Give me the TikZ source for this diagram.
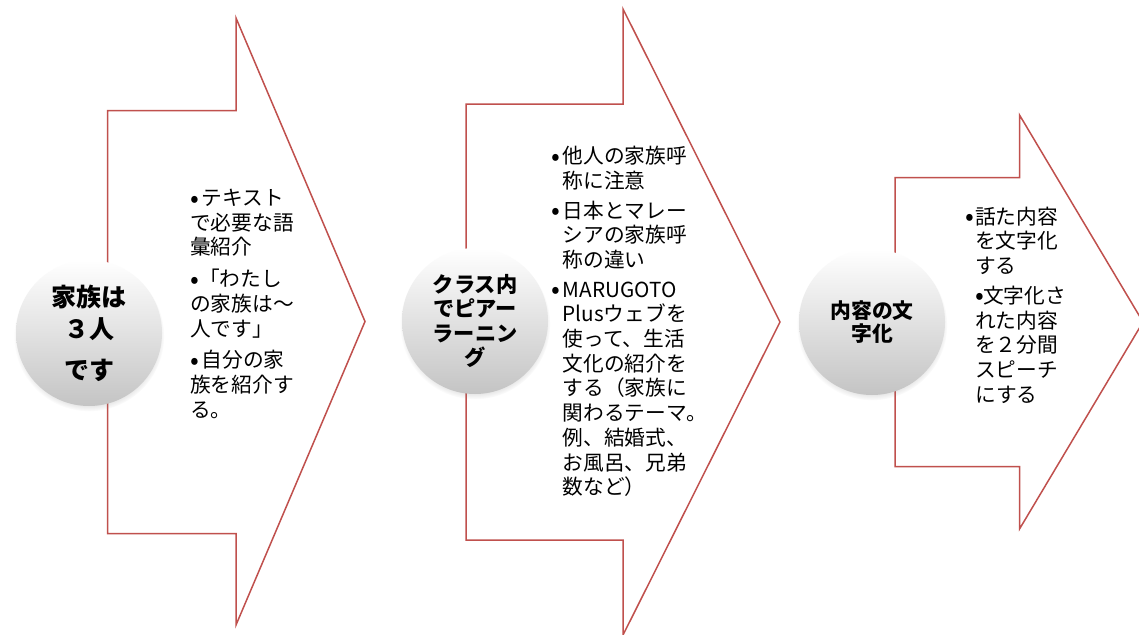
\documentclass[tikz,border=0pt]{standalone}
\usepackage{fontspec}
\newfontfamily\jp{Noto Sans CJK JP}
\usetikzlibrary{shadows}
\definecolor{arrowred}{RGB}{192,80,77}
\definecolor{ballgray}{RGB}{196,196,196}
\newcommand\bul{\raisebox{-1.6pt}{\scalebox{1.25}{•}}}
\newcommand\bitem{\makebox[11pt][l]{\bul}}
\newcommand\hang{\hspace*{11pt}}
\newcommand\bitemc{\makebox[10pt][l]{\bul}}
\newcommand\hangc{\hspace*{10pt}}
\newcommand\bitema{\makebox[11.5pt][l]{\bul}}
\begin{document}
\begin{tikzpicture}[x=1pt,y=-1pt,
  chevron/.style={draw=arrowred, line width=1.5pt, line join=miter, fill=white},
  ball/.style={circle, minimum size=146pt, inner sep=0pt, align=center,
    top color=white, bottom color=ballgray,
    circular drop shadow={shadow xshift=0pt, shadow yshift=-3pt, opacity=0.35, shadow scale=1.03}},
  bodytext/.style={anchor=north west, inner sep=0pt, align=left,
    font={\jp\fontsize{20.7}{24.7}\selectfont}}
]
\fill[white] (0,0) rectangle (1139,634);
\clip (0,0) rectangle (1139,634);
% arrows
\draw[chevron] (107.5,110.5) -- (236,110.5) -- (236,18) -- (365,321.5) -- (236,625) -- (236,533.5) -- (107.5,533.5) -- cycle;
\draw[chevron] (466,104) -- (623,104) -- (623,9) -- (780,322) -- (623,635) -- (623,540) -- (466,540) -- cycle;
\draw[chevron] (895,177.7) -- (1019.5,177.7) -- (1019.5,115) -- (1143,322) -- (1019.5,529) -- (1019.5,466.7) -- (895,466.7) -- cycle;
% circles
\node[ball, font={\jp\bfseries\fontsize{25}{32.6}\selectfont}] (c1) at (89,333) {家族は\\３人\\[7.8pt]です};
\node[ball, font={\jp\bfseries\fontsize{21.2}{24.5}\selectfont}] (c2) at (475,321) {クラス内\\でピアー\\ラーニン\\グ};
\node[ball, font={\jp\bfseries\fontsize{20.8}{23}\selectfont}] (c3) at (872,322) {内容の文\\字化};
% texts
\node[bodytext] (t1) at (190,189) {\bitema テキスト\\で必要な語\\彙紹介\\[7pt]\bul「わたし\\の家族は～\\人です」\\[7pt]\bitema 自分の家\\族を紹介す\\る。};
\node[bodytext] (t2) at (551.5,146) {\bitem 他人の家族呼\\\hang 称に注意\\[5pt]\bitem 日本とマレー\\\hang シアの家族呼\\\hang 称の違い\\[5pt]\bitem MARUGOTO\\\hang Plusウェブを\\\hang 使って、生活\\\hang 文化の紹介を\\\hang する（家族に\\\hang 関わるテーマ。\\\hang 例、結婚式、\\\hang お風呂、兄弟\\\hang 数など）};
\node[bodytext] (t3) at (965,206.7) {\bitemc 話た内容\\\hangc を文字化\\\hangc する\\[5pt]\hangc \makebox[8pt][l]{\bul}文字化さ\\\hangc れた内容\\\hangc を２分間\\\hangc スピーチ\\\hangc にする};
\end{tikzpicture}
\end{document}
